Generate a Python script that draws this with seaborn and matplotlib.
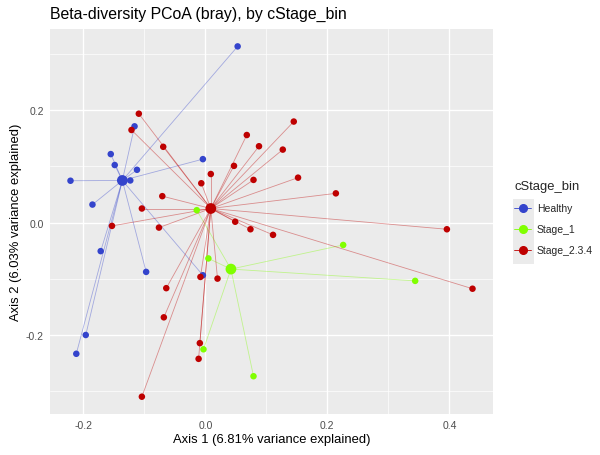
import numpy as np
import pandas as pd
import matplotlib
matplotlib.use("Agg")
import matplotlib.pyplot as plt
from matplotlib.collections import LineCollection
from matplotlib.lines import Line2D
from matplotlib.patches import Rectangle
import seaborn as sns

# PCoA sample coordinates per group
healthy_x = [0.053, -0.116, -0.155, -0.1485, -0.112, -0.004, -0.221, -0.123,
             -0.185, -0.1715, -0.097, -0.004, -0.196, -0.2115]
healthy_y = [0.314, 0.1715, 0.122, 0.1025, 0.094, 0.113, 0.0745, 0.075,
             0.032, -0.051, -0.088, -0.094, -0.2005, -0.234]

stage1_x = [-0.014, 0.005, -0.003, 0.226, 0.344, 0.079]
stage1_y = [0.022, -0.064, -0.226, -0.040, -0.104, -0.274]

stage234_x = [-0.109, -0.121, -0.069, 0.068, 0.047, 0.009, -0.0066, -0.0705,
              -0.104, 0.049, -0.153, -0.076, 0.145, 0.088, 0.127, 0.079,
              0.152, 0.214, 0.074, 0.111, 0.396, 0.438, 0.020, -0.008,
              -0.064, -0.068, -0.009, -0.011, -0.104]
stage234_y = [0.194, 0.165, 0.135, 0.156, 0.101, 0.0865, 0.070, 0.047,
              0.025, 0.0014, -0.006, -0.009, 0.180, 0.136, 0.130, 0.076,
              0.080, 0.052, -0.012, -0.022, -0.012, -0.118, -0.100, -0.097,
              -0.117, -0.169, -0.215, -0.243, -0.3105]

groups = ["Healthy", "Stage_1", "Stage_2.3.4"]
centroid_x = [-0.136, 0.042, 0.009]
centroid_y = [0.075, -0.083, 0.025]
palette = {"Healthy": "#3444CC", "Stage_1": "#80FF00", "Stage_2.3.4": "#BE0000"}

df = pd.concat([
    pd.DataFrame({"Axis.1": healthy_x, "Axis.2": healthy_y, "cStage_bin": "Healthy"}),
    pd.DataFrame({"Axis.1": stage1_x, "Axis.2": stage1_y, "cStage_bin": "Stage_1"}),
    pd.DataFrame({"Axis.1": stage234_x, "Axis.2": stage234_y, "cStage_bin": "Stage_2.3.4"}),
], ignore_index=True)
cent = pd.DataFrame({"Axis.1": centroid_x, "Axis.2": centroid_y, "cStage_bin": groups})

sns.set_theme(style="darkgrid", rc={
    "axes.facecolor": "#EBEBEB",
    "grid.color": "white",
    "axes.edgecolor": "#EBEBEB",
    "xtick.color": "#333333",
    "ytick.color": "#333333",
})
plt.rcParams["font.family"] = ["Liberation Sans", "DejaVu Sans"]

W, H = 600, 456
fig = plt.figure(figsize=(W / 100, H / 100), dpi=100)
ax = fig.add_axes([50 / W, 1 - 414.7 / H, (492.7 - 50) / W, (414.7 - 30) / H])

# spider lines from each group's centroid to its samples
for g in groups:
    sub = df[df["cStage_bin"] == g]
    c = cent[cent["cStage_bin"] == g].iloc[0]
    segs = [[(c["Axis.1"], c["Axis.2"]), (x, y)] for x, y in zip(sub["Axis.1"], sub["Axis.2"])]
    ax.add_collection(LineCollection(segs, colors=palette[g], linewidths=0.6, alpha=0.4, zorder=2))

sns.scatterplot(data=df, x="Axis.1", y="Axis.2", hue="cStage_bin", palette=palette,
                s=22, linewidth=0, legend=False, ax=ax, zorder=3)
sns.scatterplot(data=cent, x="Axis.1", y="Axis.2", hue="cStage_bin", palette=palette,
                s=60, linewidth=0, legend=False, ax=ax, zorder=4)

ax.set_xlim(-0.2546, 0.4711)
ax.set_ylim(-0.3408, 0.345)
ax.set_xticks([-0.2, 0.0, 0.2, 0.4])
ax.set_xticklabels(["-0.2", "0.0", "0.2", "0.4"])
ax.set_yticks([-0.2, 0.0, 0.2])
ax.set_yticklabels(["-0.2", "0.0", "0.2"])
ax.set_xticks([-0.1, 0.1, 0.3], minor=True)
ax.set_yticks([-0.3, -0.1, 0.1, 0.3], minor=True)
ax.grid(which="major", color="white", linewidth=1.0)
ax.grid(which="minor", color="white", linewidth=0.5)
ax.tick_params(which="major", length=2.5, width=0.8, color="#333333", labelsize=7.5,
               labelcolor="#4D4D4D", pad=2)
ax.tick_params(which="minor", length=0)
for sp in ax.spines.values():
    sp.set_visible(False)

ax.set_xlabel("Axis 1 (6.81% variance explained)", fontsize=9.4, color="black", labelpad=2)
ax.set_ylabel("Axis 2 (6.03% variance explained)", fontsize=9.4, color="black", labelpad=3)
fig.text(50 / W, 1 - 14 / H, "Beta-diversity PCoA (bray), by cStage_bin",
         fontsize=11.4, color="black", va="center", ha="left")

# legend with grey key background
fig.patches.append(Rectangle((512.5 / W, 1 - 265 / H), 21 / W, 65 / H,
                             transform=fig.transFigure, facecolor="#EBEBEB",
                             edgecolor="none", zorder=0))
handles = [Line2D([0], [0], color=palette[g], marker="o", markersize=5.5,
                  linewidth=0.6) for g in groups]
leg = fig.legend(handles, groups, title="cStage_bin", loc="upper left",
                 bbox_to_anchor=(505 / W, 1 - 172 / H), frameon=False,
                 fontsize=7.5, title_fontsize=9.4, handlelength=1.6,
                 labelspacing=1.05, handletextpad=0.55, alignment="left")

fig.savefig("out.png", dpi=100)
